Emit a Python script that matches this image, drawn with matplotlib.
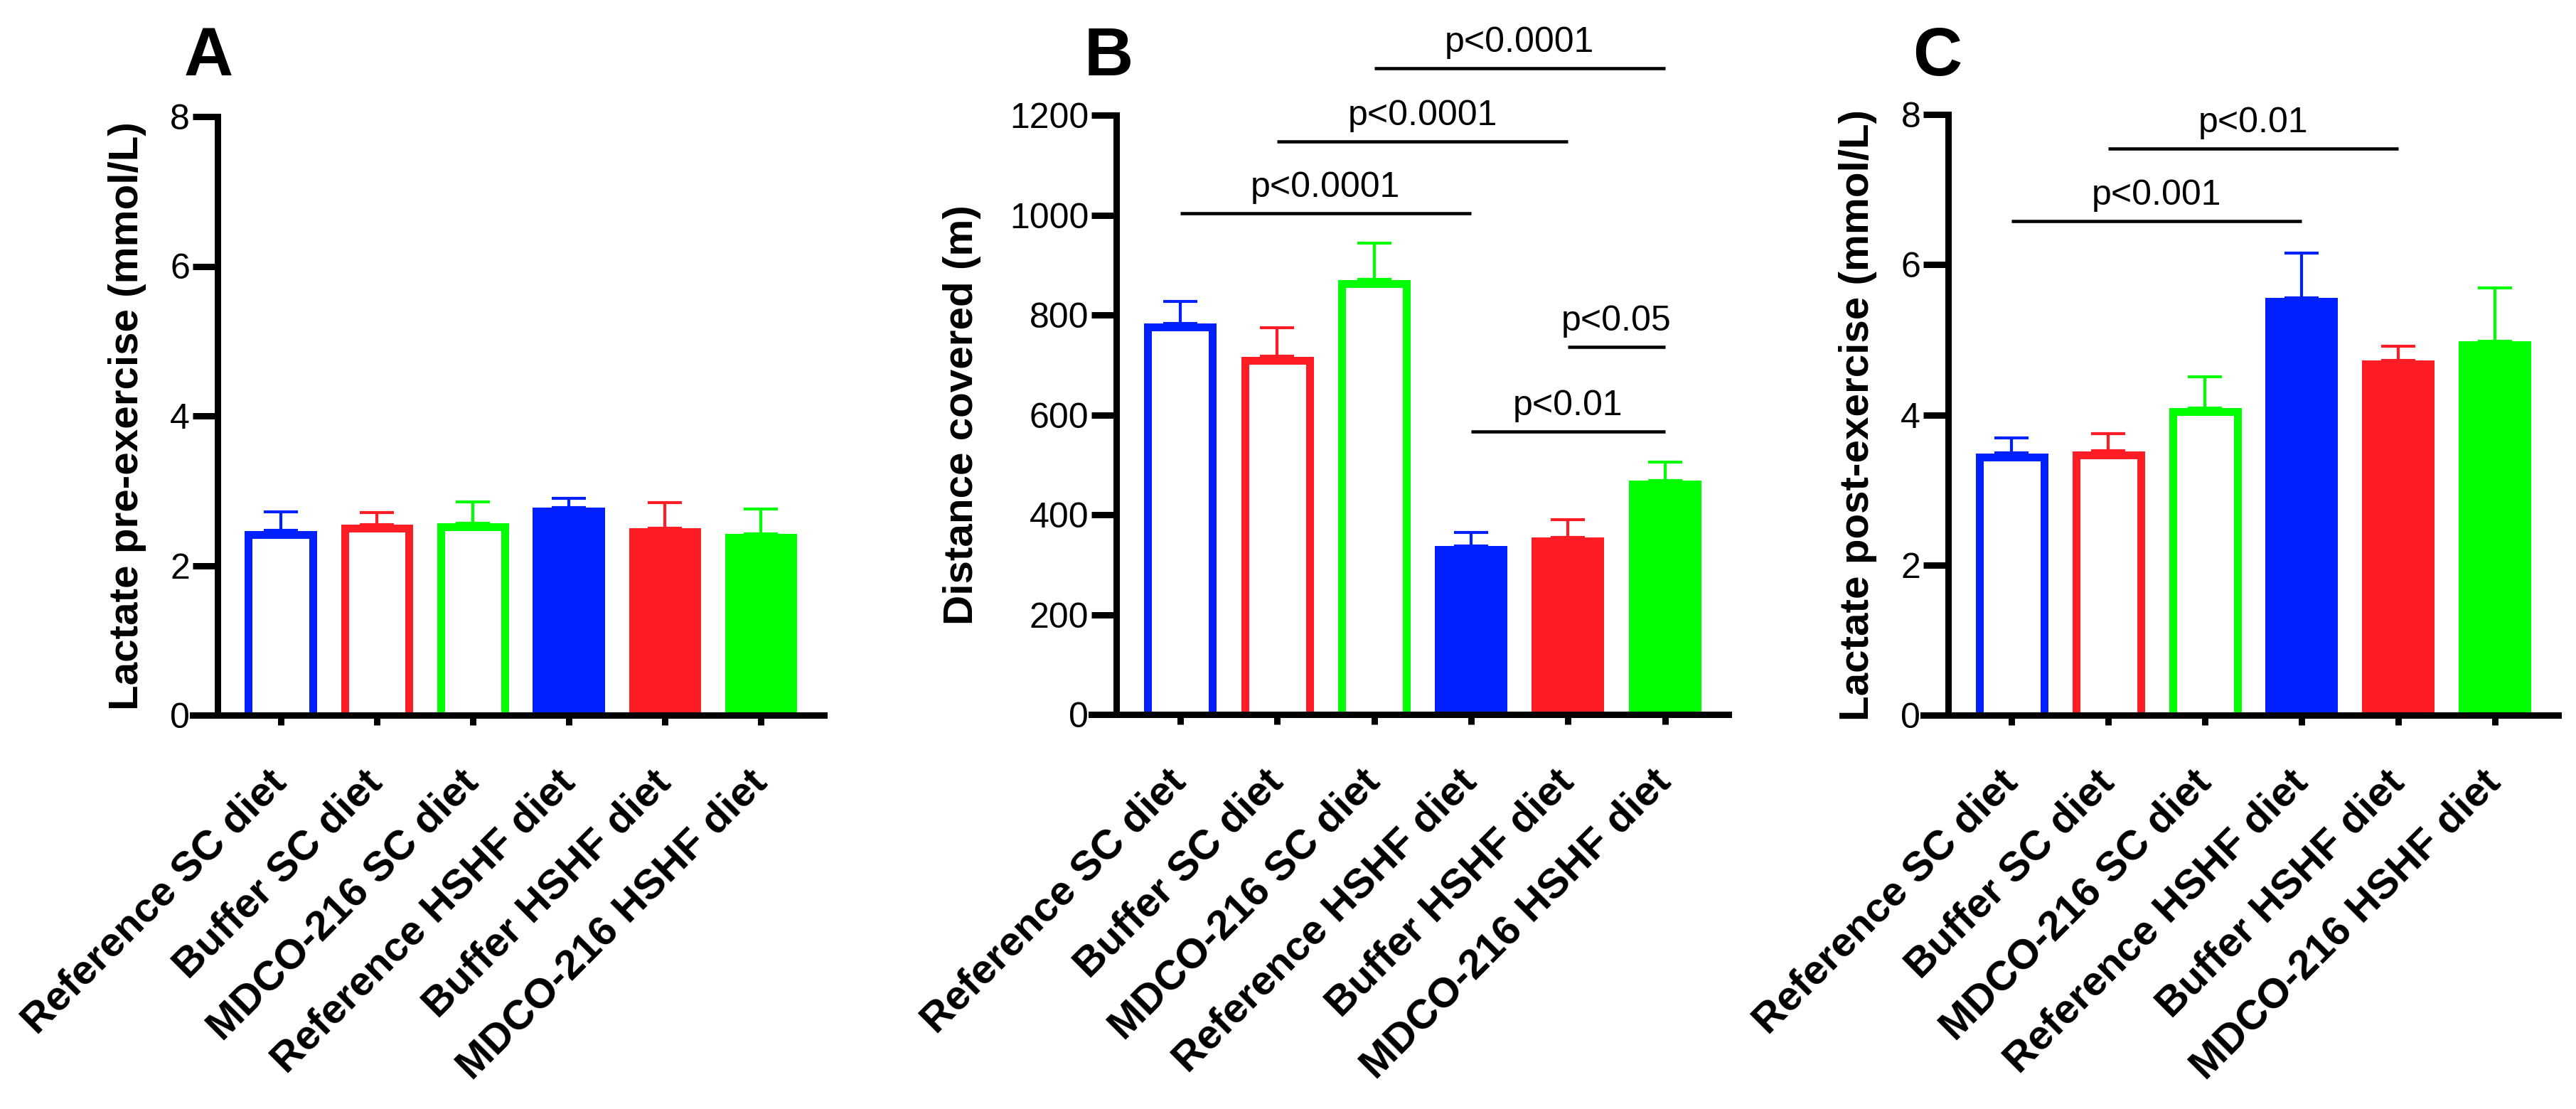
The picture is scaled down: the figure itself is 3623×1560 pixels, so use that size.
import matplotlib
matplotlib.use('Agg')
import matplotlib.pyplot as plt
import numpy as np

plt.rcParams['font.family'] = ['Liberation Sans', 'DejaVu Sans']

# ---- data ----
groups = ['Reference SC diet', 'Buffer SC diet', 'MDCO-216 SC diet',
          'Reference HSHF diet', 'Buffer HSHF diet', 'MDCO-216 HSHF diet']
bar_colors = ['#0020FF', '#FF1D25', '#00FF00', '#0020FF', '#FF1D25', '#00FF00']
is_open = [True, True, True, False, False, False]

lactate_pre_mean = [2.47, 2.55, 2.57, 2.77, 2.50, 2.42]
lactate_pre_sem = [0.25, 0.16, 0.28, 0.13, 0.34, 0.34]

distance_mean = [783, 717, 871, 338, 355, 469]
distance_sem = [44, 58, 73, 26, 35, 37]

lactate_post_mean = [3.49, 3.52, 4.09, 5.56, 4.72, 4.98]
lactate_post_sem = [0.20, 0.23, 0.42, 0.59, 0.19, 0.71]

# significance brackets: (group i, group j, height, label)
distance_sig = [(0, 3, 1003, 'p<0.0001'), (1, 4, 1147, 'p<0.0001'),
                (2, 5, 1294, 'p<0.0001'), (4, 5, 736, 'p<0.05'),
                (3, 5, 567, 'p<0.01')]
lactate_post_sig = [(0, 3, 6.58, 'p<0.001'), (1, 4, 7.55, 'p<0.01')]

FIG_W, FIG_H, DPI = 3623, 1560, 300
PX = 72.0 / DPI  # points per pixel

fig = plt.figure(figsize=(FIG_W / DPI, FIG_H / DPI), dpi=DPI)

X_LEFT, X_SPINE, X_RIGHT = -0.915, -0.655, 5.655
BAR_W = 0.75
EDGE_PX = 11


def make_axes(left, top, right, bottom):
    return fig.add_axes([left / FIG_W, 1 - bottom / FIG_H,
                         (right - left) / FIG_W, (bottom - top) / FIG_H])


def draw_panel(ax, means, sems, yticks, ylabel, label_x, sig=()):
    ymax = yticks[-1]
    x = np.arange(len(groups))
    bbox = ax.get_position()
    px_x = bbox.width * FIG_W / (X_RIGHT - X_LEFT)
    px_y = bbox.height * FIG_H / ymax

    for i in range(len(groups)):
        c = bar_colors[i]
        if is_open[i]:
            dx = EDGE_PX / px_x
            dy = EDGE_PX / px_y
            bottom = -dy
            ax.bar(x[i], means[i] - dy / 2 - bottom, width=BAR_W - dx, bottom=bottom,
                   facecolor='white', edgecolor=c, linewidth=EDGE_PX * PX, zorder=2)
        else:
            ax.bar(x[i], means[i], width=BAR_W, color=c, linewidth=0, zorder=2)
        ax.errorbar(x[i], means[i], yerr=[[0], [sems[i]]], fmt='none', ecolor=c,
                    elinewidth=1.0, capsize=5.8, capthick=1.0, zorder=1)

    for i, j, h, txt in sig:
        ax.plot([x[i], x[j]], [h, h], color='black', lw=1.1, clip_on=False,
                solid_capstyle='butt')
        ax.annotate(txt, xy=((x[i] + x[j]) / 2, h), xytext=(0, 5.5),
                    textcoords='offset points', ha='center', va='baseline',
                    fontsize=12, annotation_clip=False)

    ax.set_xlim(X_LEFT, X_RIGHT)
    ax.set_ylim(0, ymax)
    ax.set_yticks(yticks)
    ax.set_xticks(x)
    ax.set_xticklabels(groups, rotation=45, ha='right', va='center',
                       rotation_mode='anchor', fontsize=14, fontweight='bold')
    ax.tick_params(axis='y', labelsize=12, length=8.4, width=2.16, pad=1)
    ax.tick_params(axis='x', length=3.4, width=2.16, pad=17.3)
    for s in ['top', 'right']:
        ax.spines[s].set_visible(False)
    for s in ['left', 'bottom']:
        ax.spines[s].set_linewidth(2.16)
    ax.spines['left'].set_position(('data', X_SPINE))
    ax.set_ylabel(ylabel, fontsize=14, fontweight='bold')
    ax.yaxis.set_label_coords(label_x, 0.5)


axA = make_axes(271, 164, 1159, 1006)
draw_panel(axA, lactate_pre_mean, lactate_pre_sem, [0, 2, 4, 6, 8],
           'Lactate pre-exercise (mmol/L)', (206 - 271) / 888)

axB = make_axes(1535, 162, 2431, 1005)
draw_panel(axB, distance_mean, distance_sem, [0, 200, 400, 600, 800, 1000, 1200],
           'Distance covered (m)', (1380 - 1535) / 896, distance_sig)

axC = make_axes(2705, 161, 3598, 1006)
draw_panel(axC, lactate_post_mean, lactate_post_sem, [0, 2, 4, 6, 8],
           'Lactate post-exercise (mmol/L)', (2640 - 2705) / 893, lactate_post_sig)

for letter, px in [('A', 259), ('B', 1525), ('C', 2690)]:
    fig.text(px / FIG_W, 1 - 106 / FIG_H, letter, fontsize=23, fontweight='bold',
             ha='left', va='baseline')

fig.savefig('out.png', dpi=DPI)
